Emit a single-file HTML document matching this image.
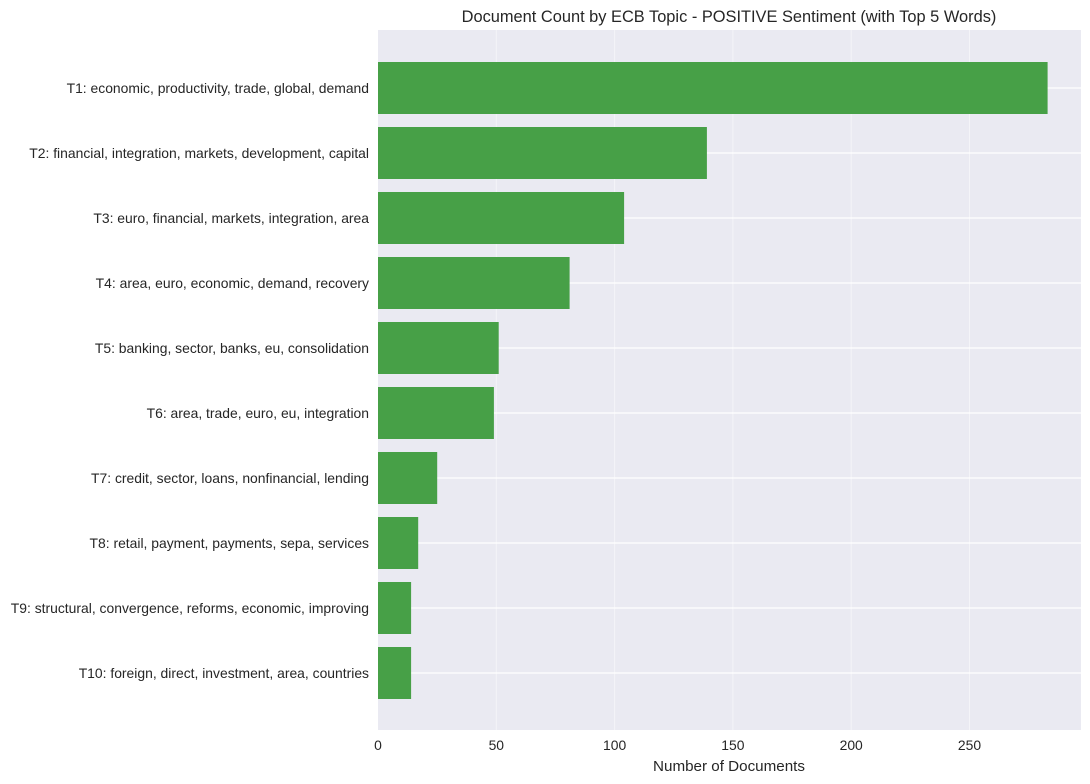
<!DOCTYPE html>
<html><head><style>body{margin:0;background:#fff}svg{display:block;font-family:"Liberation Sans",Arial,sans-serif}</style></head><body>
<svg width="1090" height="784" xmlns="http://www.w3.org/2000/svg">
<rect x="378" y="30" width="703" height="700" fill="#eaeaf2"/>
<g stroke="#f4f4f8" stroke-width="1">
<line x1="496.3" y1="30" x2="496.3" y2="730"/><line x1="614.6" y1="30" x2="614.6" y2="730"/><line x1="732.9" y1="30" x2="732.9" y2="730"/><line x1="851.2" y1="30" x2="851.2" y2="730"/><line x1="969.5" y1="30" x2="969.5" y2="730"/>
</g>
<g stroke="#fff" stroke-width="1.2">
<line x1="378" y1="88" x2="1081" y2="88"/><line x1="378" y1="153" x2="1081" y2="153"/><line x1="378" y1="218" x2="1081" y2="218"/><line x1="378" y1="283" x2="1081" y2="283"/><line x1="378" y1="348" x2="1081" y2="348"/><line x1="378" y1="413" x2="1081" y2="413"/><line x1="378" y1="478" x2="1081" y2="478"/><line x1="378" y1="543" x2="1081" y2="543"/><line x1="378" y1="608" x2="1081" y2="608"/><line x1="378" y1="673" x2="1081" y2="673"/>
</g>
<g fill="#47a047">
<rect x="378" y="62" width="669.6" height="52"/>
<rect x="378" y="127" width="328.9" height="52"/>
<rect x="378" y="192" width="246.1" height="52"/>
<rect x="378" y="257" width="191.6" height="52"/>
<rect x="378" y="322" width="120.7" height="52"/>
<rect x="378" y="387" width="115.9" height="52"/>
<rect x="378" y="452" width="59.2" height="52"/>
<rect x="378" y="517" width="40.2" height="52"/>
<rect x="378" y="582" width="33.1" height="52"/>
<rect x="378" y="647" width="33.1" height="52"/>
</g>
<g font-size="13.9" fill="#262626" text-anchor="end">
<text x="369" y="93">T1: economic, productivity, trade, global, demand</text>
<text x="369" y="158">T2: financial, integration, markets, development, capital</text>
<text x="369" y="223">T3: euro, financial, markets, integration, area</text>
<text x="369" y="288">T4: area, euro, economic, demand, recovery</text>
<text x="369" y="353">T5: banking, sector, banks, eu, consolidation</text>
<text x="369" y="418">T6: area, trade, euro, eu, integration</text>
<text x="369" y="483">T7: credit, sector, loans, nonfinancial, lending</text>
<text x="369" y="548">T8: retail, payment, payments, sepa, services</text>
<text x="369" y="613">T9: structural, convergence, reforms, economic, improving</text>
<text x="369" y="678">T10: foreign, direct, investment, area, countries</text>
</g>
<g font-size="13.9" fill="#262626" text-anchor="middle">
<text x="378" y="750">0</text><text x="496.3" y="750">50</text><text x="614.6" y="750">100</text><text x="732.9" y="750">150</text><text x="851.2" y="750">200</text><text x="969.5" y="750">250</text>
<text x="729" y="771" font-size="15.2">Number of Documents</text>
<text x="729" y="22" font-size="16.4">Document Count by ECB Topic - POSITIVE Sentiment (with Top 5 Words)</text>
</g>
</svg>
</body></html>
